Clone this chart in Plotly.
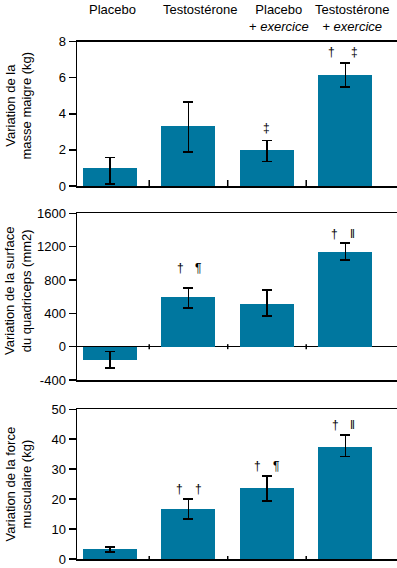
import plotly.graph_objects as go

# ---------------- data ----------------
groups = ["Placebo", "Testostérone", "Placebo<br>+ <i>exercice</i>", "Testostérone<br>+ <i>exercice</i>"]

mass_vals = [1.0, 3.33, 2.0, 6.15]
mass_err_plus = [0.58, 1.31, 0.53, 0.65]
mass_err_minus = [0.9, 1.46, 0.63, 0.68]

quad_vals = [-156, 600, 516, 1140]
quad_err_plus = [100, 104, 164, 104]
quad_err_minus = [100, 136, 148, 100]

force_vals = [3.4, 16.8, 23.8, 37.4]
force_err_plus = [0.6, 3.2, 3.9, 4.0]
force_err_minus = [1.07, 3.5, 4.4, 3.1]

mass_ticks = [0, 2, 4, 6, 8]
mass_ticktext = ["0", "2", "4", "6", "8"]
quad_ticks = [-400, 0, 400, 800, 1200, 1600]
quad_ticktext = ["-400", "0", "400", "800", "1200", "1600"]
force_ticks = [0, 10, 20, 30, 40, 50]
force_ticktext = ["0", "10", "20", "30", "40", "50"]

titles = ["Variation de la<br>masse maigre (kg)",
          "Variation de la surface<br>du quadriceps (mm2)",
          "Variation de la force<br>musculaire (kg)"]

# significance symbols: (bar index, symbol)
mass_marks = [(2, "‡"), (3, "†"), (3, "‡")]
quad_marks = [(1, "†"), (1, "¶"), (3, "†"), (3, "‖")]
force_marks = [(1, "†"), (1, "†"), (2, "†"), (2, "¶"), (3, "†"), (3, "‖")]

# ---------------- layout geometry (pixels) ----------------
W, H = 397, 568
ML, MR, MT, MB = 77, 0, 41, 9
PH = H - MT - MB
PW = W - ML - MR
FONT = "Liberation Sans, Arial, sans-serif"
SYMFONT = "Liberation Sans, Arial, sans-serif"
BAR = "#00779F"

def py(px):
    return (H - MB - px) / PH

panel_px = [(41.5, 186), (213.3, 380), (409.3, 559.3)]
x_left = -0.42
x_step_px = 78.5
x_range = [x_left, x_left + PW / x_step_px]

fig = go.Figure()

panels = [
    (mass_vals, mass_err_plus, mass_err_minus, [0, 8], mass_ticks, mass_ticktext, mass_marks),
    (quad_vals, quad_err_plus, quad_err_minus, [-400, 1600], quad_ticks, quad_ticktext, quad_marks),
    (force_vals, force_err_plus, force_err_minus, [0, 50], force_ticks, force_ticktext, force_marks),
]

xs = list(range(len(groups)))
annotations = []
shapes = []

# symbol offsets (px) per panel, in order of marks
mark_dx = [[0, -14, 9], [-8, 10, -11, 7], [-9, 10, -9, 9, -10, 7]]
mark_dy = [[12, 11, 11], [20, 20, 9, 9], [10, 10, 10, 10, 10, 10]]
tick_span = [(0, 6), (-2.5, 2.5), (-3, 3)]
title_center_px = [105.5, 291, 484.5]

for i, (vals, ep, em, rng, tv, tt, marks) in enumerate(panels):
    n = "" if i == 0 else str(i + 1)
    xa, ya = "x" + n, "y" + n
    fig.add_trace(go.Bar(
        x=xs, y=vals, width=0.688, marker=dict(color=BAR, line=dict(width=0)),
        error_y=dict(type="data", array=ep, arrayminus=em, symmetric=False,
                     color="black", thickness=1.5, width=5),
        xaxis=xa, yaxis=ya, showlegend=False, hoverinfo="skip"))
    top, bot = panel_px[i]
    fig.layout["xaxis" + n] = dict(
        domain=[0, 1], range=x_range, anchor=ya, showticklabels=False, ticks="",
        showline=True, linecolor="black", linewidth=1.5, mirror=True,
        showgrid=False, zeroline=False, fixedrange=True)
    fig.layout["yaxis" + n] = dict(
        domain=[max(py(bot), 0), min(py(top), 1)], range=rng, anchor=xa,
        tickvals=tv, ticktext=tt, ticks="outside", ticklen=7, tickwidth=1.5,
        tickcolor="black", showline=True, linecolor="black", linewidth=1.5,
        showgrid=False, zeroline=(i == 1), zerolinecolor="black", zerolinewidth=1.5,
        tickfont=dict(family=FONT, size=13, color="black"), fixedrange=True)
    # category separator ticks on the zero line
    for b in range(len(groups) - 1):
        shapes.append(dict(type="line", xref=xa, yref=ya, x0=b + 0.5, x1=b + 0.5,
                           ysizemode="pixel", yanchor=0, y0=tick_span[i][0], y1=tick_span[i][1],
                           line=dict(color="black", width=1.5)))
    # significance marks
    for k, (bi, sym) in enumerate(marks):
        annotations.append(dict(
            x=bi, y=vals[bi] + ep[bi], xref=xa, yref=ya, text=sym, showarrow=False,
            xshift=mark_dx[i][k], yshift=mark_dy[i][k], yanchor="middle",
            font=dict(family=SYMFONT, size=12, color="black")))
    # y title
    annotations.append(dict(
        x=(18 - ML) / PW, y=py(title_center_px[i]), xref="paper", yref="paper",
        text=titles[i], showarrow=False, textangle=-90, xanchor="center", yanchor="middle",
        font=dict(family=FONT, size=13, color="black")))

# group labels at top
label_dx = [3, 12, 12, 7]
for gi, g in enumerate(groups):
    annotations.append(dict(
        x=gi, y=py(0), xref="x", yref="paper", text=g, showarrow=False,
        xshift=label_dx[gi], yanchor="top", xanchor="center",
        font=dict(family=FONT, size=13, color="black")))

fig.update_layout(
    width=W, height=H, margin=dict(l=ML, r=MR, t=MT, b=MB, autoexpand=False),
    paper_bgcolor="white", plot_bgcolor="white",
    annotations=annotations, shapes=shapes, bargap=0,
    font=dict(family=FONT, size=13, color="black"))

fig.write_html("out.html", config={"displayModeBar": False, "staticPlot": True},
               post_script="document.body.style.margin='0';document.body.style.padding='0';")
